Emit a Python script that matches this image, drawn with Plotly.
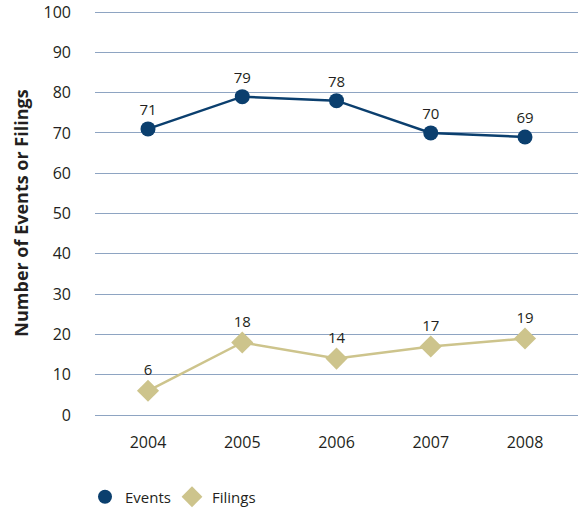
import plotly.graph_objects as go

years = ["2004", "2005", "2006", "2007", "2008"]
events = [71, 79, 78, 70, 69]
filings = [6, 18, 14, 17, 19]
y_ticks = [0, 10, 20, 30, 40, 50, 60, 70, 80, 90, 100]

NAVY = "#0b3f6e"
KHAKI = "#cdc48c"
GRID = "#8ea4c2"
FONT = "Open Sans, Noto Sans, sans-serif"
TXT = "#231f20"

fig = go.Figure()
fig.add_trace(go.Scatter(
    x=years, y=events, name="Events", mode="lines+markers+text",
    line=dict(color=NAVY, width=2.5),
    marker=dict(symbol="circle", size=15, color=NAVY),
    text=[str(v) for v in events], textposition="top center",
    textfont=dict(size=15, color=TXT, family=FONT),
    showlegend=False,
))
fig.add_trace(go.Scatter(
    x=years, y=filings, name="Filings", mode="lines+markers+text",
    line=dict(color=KHAKI, width=2.5),
    marker=dict(symbol="diamond", size=17, color=KHAKI),
    text=[str(v) for v in filings], textposition="top center",
    textfont=dict(size=15, color=TXT, family=FONT),
    showlegend=False,
))
# legend entries: markers only
fig.add_trace(go.Scatter(x=[None], y=[None], name="Events", mode="markers",
                         marker=dict(symbol="circle", size=14, color=NAVY)))
fig.add_trace(go.Scatter(x=[None], y=[None], name="Filings", mode="markers",
                         marker=dict(symbol="diamond", size=17, color=KHAKI)))

fig.update_layout(
    width=582, height=508,
    margin=dict(l=95, r=4, t=11, b=93, autoexpand=False),
    paper_bgcolor="white", plot_bgcolor="white",
    font=dict(family=FONT, size=15, color=TXT),
    showlegend=True,
    legend=dict(orientation="h", xref="container", yref="container",
                x=85 / 582, y=1 - 497 / 508, xanchor="left", yanchor="middle",
                font=dict(size=15, color=TXT), itemwidth=30, entrywidth=42),
    xaxis=dict(type="category", range=[-0.5625, 4.5625], showgrid=False, showline=False,
               automargin=False,
               ticks="", ticklabelstandoff=16, tickfont=dict(size=16, color=TXT)),
    yaxis=dict(range=[0, 100.25], tickvals=y_ticks, showgrid=True, gridcolor=GRID, gridwidth=1.3,
               zeroline=True, zerolinecolor=GRID, zerolinewidth=1.3, automargin=False,
               ticks="", ticklabelstandoff=23, tickfont=dict(size=16, color=TXT),
               title=dict(text="<b>Number of Events or Filings</b>", font=dict(size=18, color=TXT),
                          standoff=10)),
)

fig.write_html("out.html", config={"displayModeBar": False},
               post_script="document.body.style.margin='0';")
